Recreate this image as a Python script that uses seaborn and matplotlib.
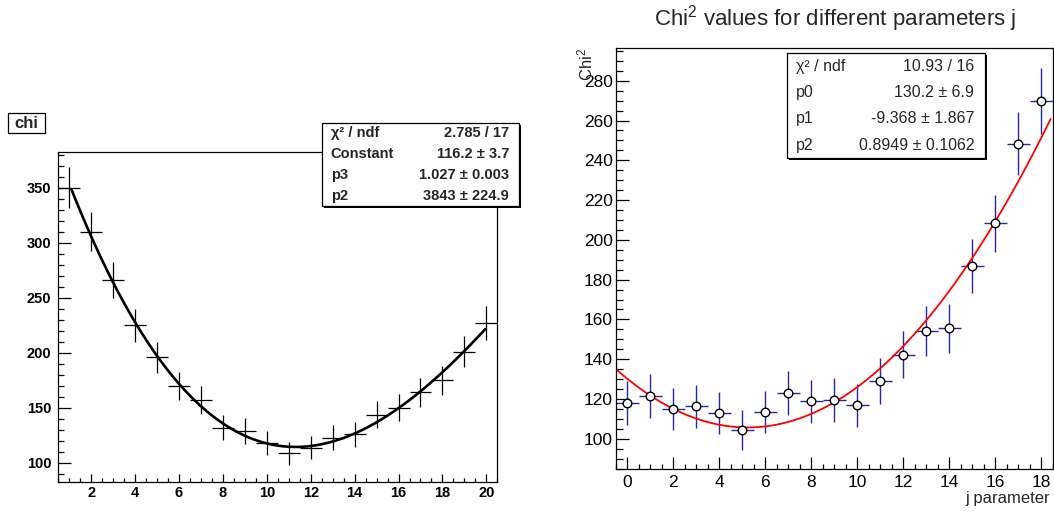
import numpy as np
import pandas as pd
import matplotlib
matplotlib.use("Agg")
import matplotlib.pyplot as plt
from matplotlib.patches import Rectangle
from matplotlib.ticker import MultipleLocator
import seaborn as sns

# ---- data -------------------------------------------------------------
chi_x = list(range(1, 21))
chi_y = [350, 310, 266, 225, 196, 170, 157, 132, 129, 118,
         109, 114, 123, 126, 144, 150, 164, 175, 201, 227]
chi_err = [18.7, 17.6, 16.3, 15.0, 14.0, 13.0, 12.5, 11.5, 11.4, 10.9,
           10.4, 10.7, 11.1, 11.2, 12.0, 12.2, 12.8, 13.2, 14.2, 15.1]

j_x = list(range(0, 19))
j_y = [117.9, 121.5, 114.9, 116.3, 113.1, 104.4, 113.4, 122.8, 118.8, 119.4,
       116.8, 129.0, 142.2, 154.1, 155.5, 186.8, 208.4, 248.3, 269.8]
j_err = [10.9, 11.0, 10.7, 10.8, 10.6, 10.2, 10.6, 11.1, 10.9, 10.9,
         10.8, 11.4, 11.9, 12.4, 12.5, 13.7, 14.4, 15.8, 16.4]

# fit results shown in the stat boxes
left_stats = [("χ² / ndf", "2.785 / 17"),
              ("Constant", "116.2 ± 3.7"),
              ("p3", "1.027 ± 0.003"),
              ("p2", "3843 ± 224.9")]
right_stats = [("χ² / ndf", "10.93 / 16"),
               ("p0", "130.2 ± 6.9"),
               ("p1", "-9.368 ± 1.867"),
               ("p2", "0.8949 ± 0.1062")]
pol2 = [130.2, -9.368, 0.8949]

# ---- style ------------------------------------------------------------
W, H = 1054, 512
sns.set_theme(style="ticks")
plt.rcParams.update({
    "font.family": ["Liberation Sans", "DejaVu Sans"],
    "mathtext.fontset": "custom",
    "mathtext.rm": "Liberation Sans",
    "mathtext.it": "Liberation Sans:italic",
    "mathtext.bf": "Liberation Sans:bold",
    "axes.linewidth": 0.9,
    "axes.edgecolor": "black",
    "xtick.direction": "in",
    "ytick.direction": "in",
    "xtick.color": "black",
    "ytick.color": "black",
})

fig = plt.figure(figsize=(W / 100, H / 100), dpi=100)
fig.patch.set_facecolor("white")


def fx(px):
    return px / W


def fy(py):
    return 1 - py / H


def add_axes_px(x0, y0, x1, y1):
    return fig.add_axes([fx(x0), fy(y1), fx(x1) - fx(x0), fy(y0) - fy(y1)])


def stat_box(x0, y0, x1, y1, rows, lx, rx, size, weight):
    # drop shadow, then white box with black border
    fig.add_artist(Rectangle((fx(x0 + 2), fy(y1 + 2)), fx(x1 - x0), (y1 - y0) / H,
                             transform=fig.transFigure, facecolor="black",
                             edgecolor="none", zorder=10))
    fig.add_artist(Rectangle((fx(x0), fy(y1)), fx(x1 - x0), (y1 - y0) / H,
                             transform=fig.transFigure, facecolor="white",
                             edgecolor="black", linewidth=0.9, zorder=11))
    step = (y1 - y0) / len(rows)
    for i, (name, val) in enumerate(rows):
        yc = y0 + step * (i + 0.5)
        fig.text(fx(lx), fy(yc), name, ha="left", va="center", fontsize=size,
                 fontweight=weight, zorder=12)
        fig.text(fx(rx), fy(yc), val, ha="right", va="center", fontsize=size,
                 fontweight=weight, zorder=12)


def style_ticks(ax, xmaj, xmin, ymaj, ymin, xl, xs, yl, ys, size, weight, xpad, ypad):
    ax.xaxis.set_major_locator(MultipleLocator(xmaj))
    ax.xaxis.set_minor_locator(MultipleLocator(xmin))
    ax.yaxis.set_major_locator(MultipleLocator(ymaj))
    ax.yaxis.set_minor_locator(MultipleLocator(ymin))
    ax.tick_params(axis="x", which="major", length=xl, width=0.9, pad=xpad,
                   labelsize=size, top=False)
    ax.tick_params(axis="x", which="minor", length=xs, width=0.9, top=False)
    ax.tick_params(axis="y", which="major", length=yl, width=0.9, pad=ypad,
                   labelsize=size, right=False)
    ax.tick_params(axis="y", which="minor", length=ys, width=0.9, right=False)
    for lab in ax.get_xticklabels() + ax.get_yticklabels():
        lab.set_fontweight(weight)
    for sp in ax.spines.values():
        sp.set_visible(True)
        sp.set_color("black")
        sp.set_linewidth(0.9)


# ---- left panel: chi -------------------------------------------------
axl = add_axes_px(58.3, 151.7, 497.3, 481.7)
axl.errorbar(chi_x, chi_y, xerr=0.5, yerr=chi_err, fmt="none",
             ecolor="black", elinewidth=0.9, capsize=0)

cx = np.array(chi_x, dtype=float)
coef = np.polyfit(cx, np.array(chi_y, dtype=float), 3, w=1 / np.array(chi_err))
xs = np.linspace(1.1, 19.95, 300)
sns.lineplot(x=xs, y=np.polyval(coef, xs), ax=axl, color="black", linewidth=1.9)

axl.set_xlim(0.5, 20.5)
axl.set_ylim(83.0, 382.6)
axl.set_xlabel("")
axl.set_ylabel("")
style_ticks(axl, 2, 0.5, 50, 10, 5.8, 2.9, 9.4, 4.3, 10.5, "bold", 3, 5)
axl.set_xticks([2, 4, 6, 8, 10, 12, 14, 16, 18, 20])
for lab in axl.get_xticklabels() + axl.get_yticklabels():
    lab.set_fontweight("bold")

# histogram name box
fig.add_artist(Rectangle((fx(8.3), fy(133.3)), fx(36.7), 20 / H,
                         transform=fig.transFigure, facecolor="white",
                         edgecolor="black", linewidth=0.9))
fig.text(fx(26.6), fy(123.5), "chi", ha="center", va="center", fontsize=12,
         fontweight="bold")

stat_box(321.5, 122.7, 519.3, 206.0, left_stats, 330.7, 509.0, 10.5, "bold")

# ---- right panel: j parameter -----------------------------------------
axr = add_axes_px(615.7, 48.3, 1053.0, 469.0)
axr.errorbar(j_x, j_y, xerr=0.5, yerr=j_err, fmt="none",
             ecolor="#000099", elinewidth=1.0, capsize=0, alpha=0.85)
xr = np.linspace(-0.5, 18.4, 300)
yr = pol2[0] + pol2[1] * xr + pol2[2] * xr ** 2
sns.lineplot(x=xr, y=yr, ax=axr, color="#ff0000", linewidth=1.3)
df = pd.DataFrame({"j": j_x, "chi2": j_y})
sns.scatterplot(data=df, x="j", y="chi2", ax=axr, s=38, marker="o",
                facecolor="white", edgecolor="black", linewidth=1.0, zorder=5)

axr.set_xlim(-0.5, 18.5)
axr.set_ylim(84.8, 296.3)
axr.set_xlabel("")
axr.set_ylabel("")
style_ticks(axr, 2, 0.5, 20, 5, 8.6, 3.6, 9.4, 5.0, 12.5, "normal", 4, 2)

fig.text(fx(835.7), fy(25), "Chi$^2$ values for different parameters j",
         ha="center", va="baseline", fontsize=16)
fig.text(fx(585), fy(48), "Chi$^2$", rotation=90, ha="center", va="top",
         fontsize=12)
fig.text(fx(1050.5), fy(503), "j parameter", ha="right", va="baseline",
         fontsize=12)

stat_box(787.3, 53.3, 985.0, 158.3, right_stats, 796.0, 974.3, 11.5, "normal")

fig.savefig("out.png", dpi=100)
